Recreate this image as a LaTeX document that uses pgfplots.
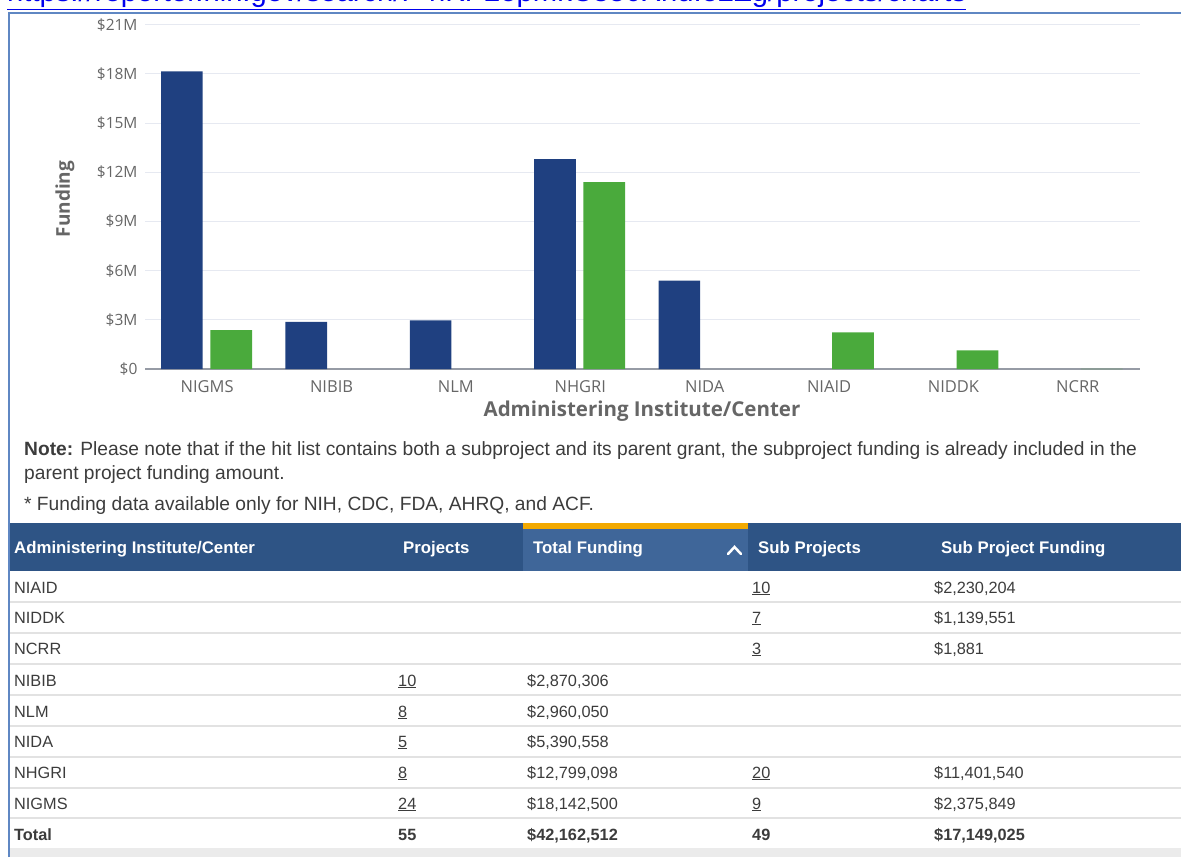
\documentclass[border=0pt]{standalone}
\usepackage{fontspec}
\usepackage{pgfplots}
\pgfplotsset{compat=1.18}
\setmainfont{Liberation Sans}
\newfontfamily\chartfont{Open Sans}
\newcommand{\px}[1]{\fontsize{#1}{#1}\selectfont}
\definecolor{barblue}{RGB}{31,64,128}
\definecolor{bargreen}{RGB}{74,170,60}
\definecolor{gridc}{RGB}{230,233,241}
\definecolor{axisc}{RGB}{150,155,165}
\definecolor{tickc}{RGB}{102,102,102}
\definecolor{framec}{RGB}{95,135,195}
\definecolor{urlblue}{RGB}{0,0,238}
\definecolor{tabtext}{RGB}{60,60,60}
\definecolor{hdr}{RGB}{46,84,133}
\definecolor{hdrsort}{RGB}{63,102,153}
\definecolor{orangec}{RGB}{242,169,0}
\definecolor{sepc}{RGB}{226,226,226}
\definecolor{bandc}{RGB}{235,235,235}
\newcommand{\cell}[3]{\node[anchor=base west, inner sep=0, text=tabtext, font=\px{16.3}] at (#1,-#2) {#3};}
\newcommand{\hcell}[3]{\node[anchor=base west, inner sep=0, text=white, font=\bfseries\px{16.8}] at (#1,-#2) {#3};}
\begin{document}
\begin{tikzpicture}[x=1pt,y=1pt]
\path[use as bounding box] (0,0) rectangle (1181,-857);
% URL (cut off at top)
\begin{scope}
\clip (0,0) rectangle (1181,-11);
\node[anchor=base west, inner sep=0, text=urlblue] at (7,-1.5) {\resizebox{959pt}{!}{\px{20}\underline{https://reporter.nih.gov/search/F-hKP2opmkC850XnuIe2Zg/projects/charts}}};
\end{scope}
% frame
\draw[framec, line width=2pt] (8.5,-857) -- (8.5,-12.5) -- (1181,-12.5);
% chart
\begin{axis}[
  at={(145pt,-369pt)}, anchor=south west,
  scale only axis, width=995pt, height=344.4pt,
  xmin=-0.5, xmax=7.5, ymin=0, ymax=21,
  ybar, bar width=41.7pt,
  axis x line*=bottom, axis y line*=left,
  x axis line style={draw=axisc, line width=1.2pt, -},
  y axis line style={draw=none},
  xtick={0,1,2,3,4,5,6,7},
  xticklabels={NIGMS,NIBIB,NLM,NHGRI,NIDA,NIAID,NIDDK,NCRR},
  xtick style={draw=none},
  extra x ticks={-0.5,0.5,1.5,2.5,3.5,4.5,5.5,6.5,7.5},
  extra x tick labels={},
  extra x tick style={major tick length=8pt, tick align=outside, tick style={draw=axisc, line width=1pt}},
  ytick={0,3,6,9,12,15,18,21},
  yticklabels={\$0,\$3M,\$6M,\$9M,\$12M,\$15M,\$18M,\$21M},
  ytick style={draw=none},
  ymajorgrids, major grid style={draw=gridc, line width=1pt},
  yticklabel style={font=\chartfont\px{15.5}, text=tickc, xshift=-4pt},
  xticklabel style={font=\chartfont\px{16.5}, text=tickc, text height=12pt, text depth=3pt, yshift=-4pt},
  clip=false,
]
\addplot[fill=barblue, draw=none, bar shift=-25.3pt] coordinates {(0,18.142500) (1,2.870306) (2,2.960050) (3,12.799098) (4,5.390558)};
\addplot[fill=bargreen, draw=none, bar shift=24pt] coordinates {(0,2.375849) (3,11.401540) (5,2.230204) (6,1.139551) (7,0.001881)};
\end{axis}
\node[rotate=90, text=tickc, font=\chartfont\bfseries\px{19}] at (65,-199) {Funding};
\node[text=tickc, font=\chartfont\bfseries\px{20.5}] at (642,-411) {Administering Institute/Center};
% notes
\node[anchor=base west, inner sep=0, text=tabtext, font=\px{19.2}] at (24,-455) {\textbf{Note:} Please note that if the hit list contains both a subproject and its parent grant, the subproject funding is already included in the};
\node[anchor=base west, inner sep=0, text=tabtext, font=\px{19.2}] at (24,-479) {parent project funding amount.};
\node[anchor=base west, inner sep=0, text=tabtext, font=\px{19.2}] at (24,-510) {* Funding data available only for NIH, CDC, FDA, AHRQ, and ACF.};
% table header
\fill[hdr] (10,-523) rectangle (1181,-571);
\fill[hdrsort] (522.7,-529) rectangle (747.7,-571);
\fill[orangec] (522.7,-523) rectangle (747.7,-529);
\hcell{14}{553}{Administering Institute/Center}
\hcell{403}{553}{Projects}
\hcell{533}{553}{Total Funding}
\hcell{758}{553}{Sub Projects}
\hcell{941}{553}{Sub Project Funding}
\draw[white, line width=2.5pt, line cap=round, line join=miter] (728,-554) -- (734.5,-547) -- (741,-554);
% separators
\foreach \yy in {602,633,664,695,726,757,788,818} {\fill[sepc] (10,-\yy+1) rectangle (1181,-\yy-1);}
\fill[bandc] (10,-848) rectangle (1181,-857);
% rows
\cell{14}{593}{NIAID}\cell{752}{593}{\underline{10}}\cell{934}{593}{\$2,230,204}
\cell{14}{623}{NIDDK}\cell{752}{623}{\underline{7}}\cell{934}{623}{\$1,139,551}
\cell{14}{654}{NCRR}\cell{752}{654}{\underline{3}}\cell{934}{654}{\$1,881}
\cell{14}{686}{NIBIB}\cell{398}{686}{\underline{10}}\cell{527}{686}{\$2,870,306}
\cell{14}{717}{NLM}\cell{398}{717}{\underline{8}}\cell{527}{717}{\$2,960,050}
\cell{14}{747}{NIDA}\cell{398}{747}{\underline{5}}\cell{527}{747}{\$5,390,558}
\cell{14}{778}{NHGRI}\cell{398}{778}{\underline{8}}\cell{527}{778}{\$12,799,098}\cell{752}{778}{\underline{20}}\cell{934}{778}{\$11,401,540}
\cell{14}{809}{NIGMS}\cell{398}{809}{\underline{24}}\cell{527}{809}{\$18,142,500}\cell{752}{809}{\underline{9}}\cell{934}{809}{\$2,375,849}
\cell{14}{840}{\textbf{Total}}\cell{398}{840}{\textbf{55}}\cell{527}{840}{\textbf{\$42,162,512}}\cell{752}{840}{\textbf{49}}\cell{934}{840}{\textbf{\$17,149,025}}
\end{tikzpicture}
\end{document}
